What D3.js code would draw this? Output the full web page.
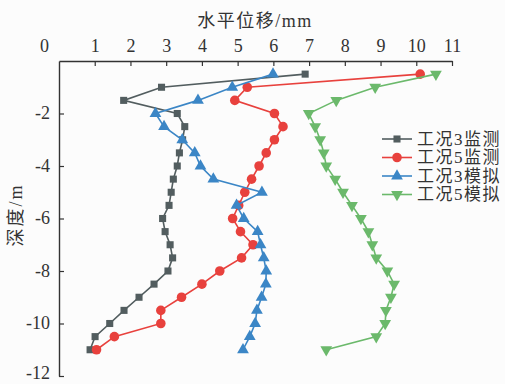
<!DOCTYPE html>
<html>
<head>
<meta charset="utf-8">
<script src="https://cdn.jsdelivr.net/npm/d3@7"></script>
<style>
  html, body { margin: 0; padding: 0; background: #fcfcfc; }
  svg { display: block; }
  text { font-family: "Liberation Serif", "Noto Sans CJK SC", serif; fill: #333; }
</style>
</head>
<body>
<svg id="chart" width="505" height="384"></svg>
<script>
// Horizontal displacement (mm) versus depth (m)
const depths = [-0.5, -1, -1.5, -2, -2.5, -3, -3.5, -4, -4.5, -5, -5.5, -6,
                -6.5, -7, -7.5, -8, -8.5, -9, -9.5, -10, -10.5, -11];

const case3Measured = [6.89, 2.87, 1.81, 3.31, 3.52, 3.46, 3.37, 3.31, 3.2, 3.14, 3.08,
                       2.9, 2.97, 3.11, 3.18, 3.05, 2.66, 2.24, 1.82, 1.42, 1.01, 0.87];
const case5Measured = [10.11, 5.27, 4.92, 6.03, 6.27, 6.03, 5.8, 5.6, 5.39, 5.2, 5.03,
                       4.86, 5.08, 5.43, 5.11, 4.5, 4.0, 3.43, 2.85, 2.85, 1.55, 1.05];
const case3Simulated = [5.99, 4.85, 3.89, 2.7, 2.94, 3.45, 3.8, 3.96, 4.32, 5.68, 4.97,
                        5.17, 5.56, 5.64, 5.73, 5.8, 5.79, 5.67, 5.54, 5.49, 5.34, 5.15];
const case5Simulated = [10.55, 8.85, 7.76, 6.99, 7.17, 7.31, 7.41, 7.48, 7.73, 7.95, 8.2,
                        8.45, 8.66, 8.77, 8.88, 9.19, 9.38, 9.29, 9.15, 9.13, 8.88, 7.48];

const seriesNames = ["工况3监测", "工况5监测", "工况3模拟", "工况5模拟"];
const xTicks = [0, 1, 2, 3, 4, 5, 6, 7, 8, 9, 10, 11];
const yTicks = [-2, -4, -6, -8, -10, -12];
const xTitle = "水平位移/mm";
const yTitle = "深度/m";

const series = [
  { name: seriesNames[0], values: case3Measured, color: "#525d5f", symbol: d3.symbolSquare, size: 50, rotate: 0 },
  { name: seriesNames[1], values: case5Measured, color: "#e8413d", symbol: d3.symbolCircle, size: 72, rotate: 0 },
  { name: seriesNames[2], values: case3Simulated, color: "#3b86c6", symbol: d3.symbolTriangle, size: 60, rotate: 0 },
  { name: seriesNames[3], values: case5Simulated, color: "#6bb96b", symbol: d3.symbolTriangle, size: 60, rotate: 180 }
];

const svg = d3.select("#chart");
const plotLeft = 59, plotTop = 61, plotRight = 452, plotBottom = 376;

const x = d3.scaleLinear().domain([0, 11]).range([plotLeft, plotRight]);
const y = d3.scaleLinear().domain([0, -12]).range([plotTop, plotBottom]);

// top axis (ticks point into the plot)
const xAxis = svg.append("g")
  .attr("transform", `translate(0,${plotTop})`)
  .call(d3.axisTop(x).tickValues(xTicks).tickSize(-5).tickSizeOuter(0).tickPadding(9)
        .tickFormat(d3.format("d")));
xAxis.select(".domain").attr("stroke", "#333").attr("stroke-width", 1.4);
xAxis.selectAll(".tick line").attr("stroke", "#333").attr("stroke-width", 1.2);
xAxis.selectAll(".tick text").attr("font-size", 18).attr("fill", "#333")
  .attr("font-family", "Liberation Serif, serif");
xAxis.selectAll(".tick").filter(d => d === 0).select("line").remove();
xAxis.selectAll(".tick").filter(d => d === 0).select("text").attr("x", -15);

// left axis (ticks point into the plot)
const yAxis = svg.append("g")
  .attr("transform", `translate(${plotLeft},0)`)
  .call(d3.axisLeft(y).tickValues(yTicks).tickSize(-5).tickSizeOuter(0).tickPadding(9)
        .tickFormat(d => d3.format("d")(d).replace("−", "-")));
yAxis.select(".domain").attr("stroke", "#333").attr("stroke-width", 1.4);
yAxis.selectAll(".tick line").attr("stroke", "#333").attr("stroke-width", 1.2);
yAxis.selectAll(".tick text").attr("font-size", 18).attr("fill", "#333")
  .attr("font-family", "Liberation Serif, serif")
  .attr("dy", "0.28em");
// keep the bottom label inside the canvas
yAxis.selectAll(".tick").filter(d => d === -12).select("text").attr("dy", "0.12em");

// axis titles
svg.append("text")
  .attr("x", 255).attr("y", 27)
  .attr("text-anchor", "middle")
  .attr("font-size", 18)
  .attr("letter-spacing", 1.5)
  .text(xTitle);

svg.append("text")
  .attr("transform", "translate(22,215) rotate(-90)")
  .attr("text-anchor", "middle")
  .attr("font-size", 18)
  .attr("letter-spacing", 2)
  .text(yTitle);

// series lines and markers
const line = d3.line()
  .x(d => x(d.v))
  .y(d => y(d.depth));

series.forEach(s => {
  const pts = s.values.map((v, i) => ({ v, depth: depths[i] }));
  const g = svg.append("g");
  g.append("path")
    .datum(pts)
    .attr("fill", "none")
    .attr("stroke", s.color)
    .attr("stroke-width", 1.6)
    .attr("d", line);
  g.selectAll("path.marker")
    .data(pts)
    .join("path")
    .attr("class", "marker")
    .attr("fill", s.color)
    .attr("transform", d => `translate(${x(d.v)},${y(d.depth)}) rotate(${s.rotate})`)
    .attr("d", d3.symbol().type(s.symbol).size(s.size));
});

// legend
const legend = svg.append("g").attr("transform", "translate(382,139)");
series.forEach((s, i) => {
  const row = legend.append("g").attr("transform", `translate(0,${i * 18.5})`);
  row.append("line")
    .attr("x1", 0).attr("x2", 30).attr("y1", 0).attr("y2", 0)
    .attr("stroke", s.color).attr("stroke-width", 1.6);
  row.append("path")
    .attr("fill", s.color)
    .attr("transform", `translate(15,0) rotate(${s.rotate})`)
    .attr("d", d3.symbol().type(s.symbol).size(s.size));
  row.append("text")
    .attr("x", 35).attr("y", 0)
    .attr("dy", "0.35em")
    .attr("font-size", 17)
    .attr("letter-spacing", 1.5)
    .attr("font-family", "Noto Sans CJK SC, sans-serif")
    .attr("fill", "#444")
    .text(s.name);
});
</script>
</body>
</html>
